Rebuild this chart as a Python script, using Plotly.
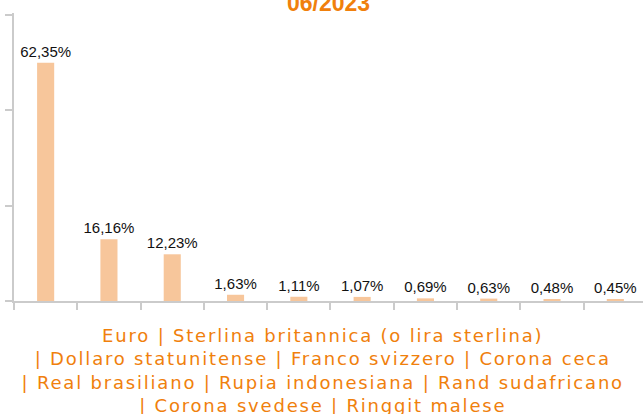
import plotly.graph_objects as go

categories = ["Euro", "Sterlina britannica (o lira sterlina)", "Dollaro statunitense",
              "Franco svizzero", "Corona ceca", "Real brasiliano", "Rupia indonesiana",
              "Rand sudafricano", "Corona svedese", "Ringgit malese"]
values = [62.35, 16.16, 12.23, 1.63, 1.11, 1.07, 0.69, 0.63, 0.48, 0.45]
title_text = "06/2023"
# how the legend text wraps (index groups of categories per line)
legend_lines = [[0, 1], [2, 3, 4], [5, 6, 7], [8, 9]]

BAR = "#F7C69B"
ORANGE = "#F0800C"
AXIS = "#CBCBCB"

PLOT_TOP, PLOT_BOT = 13, 301
PH = PLOT_BOT - PLOT_TOP

fig = go.Figure()
fig.add_trace(go.Bar(
    x=categories, y=values,
    marker=dict(color=BAR, line=dict(width=0)),
    width=0.27,
    texttemplate="%{y:.2f}%", textposition="outside",
    constraintext="none",
    textfont=dict(family="Liberation Sans, Arial, sans-serif", size=15, color="#111111"),
    cliponaxis=False,
    hoverinfo="skip",
))

lines = []
for i, grp in enumerate(legend_lines):
    s = " | ".join(categories[j] for j in grp)
    if i > 0:
        s = "| " + s
    lines.append(s)

fig.add_annotation(
    text="<br>".join(lines),
    xref="paper", yref="paper", x=(323 - 14) / 629, y=(PLOT_BOT - 370) / PH,
    xanchor="center", yanchor="middle", showarrow=False, align="center",
    font=dict(family="DejaVu Sans, Verdana, sans-serif", size=18, color=ORANGE),
)

fig.add_annotation(
    text="<b>" + title_text + "</b>",
    xref="paper", yref="paper", x=(328.5 - 14) / 629, y=(PLOT_BOT - 3.5) / PH,
    xanchor="center", yanchor="middle", showarrow=False,
    font=dict(family="Liberation Sans, Arial, sans-serif", size=23, color=ORANGE),
)

fig.update_layout(
    width=643, height=414,
    margin=dict(l=14, r=0, t=PLOT_TOP, b=414 - PLOT_BOT),
    paper_bgcolor="white", plot_bgcolor="white",
    separators=",.",
    showlegend=False,
    xaxis=dict(range=[-0.5, 9.437], showticklabels=False, showgrid=False, zeroline=False,
               automargin=False,
               showline=True, linecolor=AXIS, linewidth=2,
               ticks="outside", tickson="boundaries", ticklen=7, tickcolor=AXIS, tickwidth=2),
    yaxis=dict(range=[0, 75.4], tickvals=[0, 25, 50, 75], showticklabels=False,
               automargin=False,
               showgrid=False, zeroline=False, showline=True, linecolor=AXIS, linewidth=2,
               ticks="outside", ticklen=7, tickcolor=AXIS, tickwidth=2),
)

post = """
document.body.style.margin = '0';
var gd = document.getElementById('{plot_id}');
function sp(){
  var a = document.querySelectorAll('.annotation-text');
  if (a.length) { a[0].style.letterSpacing='1.8px'; }
}
sp(); setTimeout(sp, 0);
if (gd && gd.on) { gd.on('plotly_afterplot', sp); }
"""
fig.write_html("out.html", post_script=post, config={"displayModeBar": False})
